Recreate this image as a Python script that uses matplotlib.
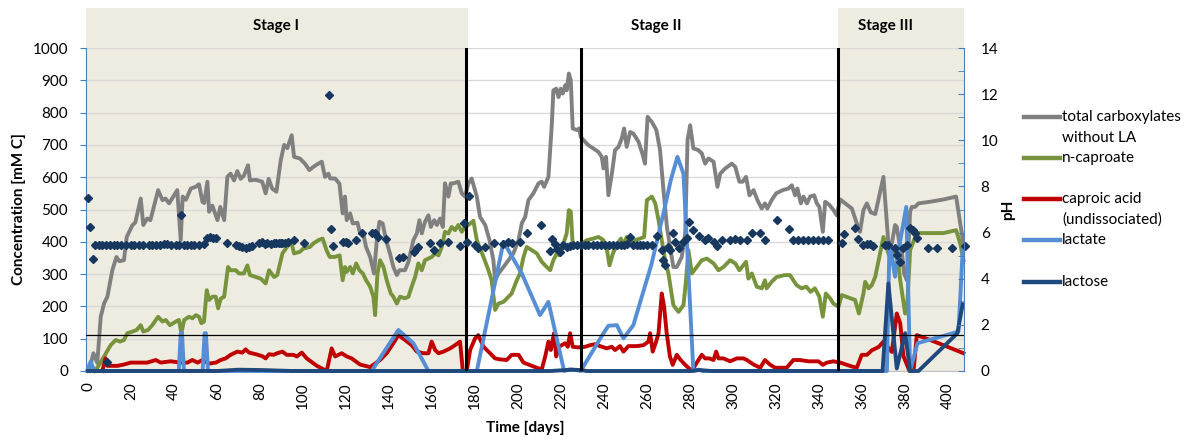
import matplotlib
matplotlib.use("Agg")
import matplotlib.pyplot as plt
import matplotlib.transforms as mtransforms
from matplotlib.patches import Rectangle
from matplotlib.lines import Line2D
from matplotlib.ticker import MultipleLocator

plt.rcParams['font.family'] = ['Lato', 'DejaVu Sans']

# ---- data: (day, value) ----
total_carbox = [(0.5,0),(2.5,55),(4.3,25),(5.9,168),(7.5,210),(9,230),(11.3,312),(13.2,353),(14.5,340),(16.7,343),(18,415),(20.6,451),(22,460),(24.5,534),(25.7,452),(27.5,472),(29,467),(32.6,560),(34.6,529),(36,534),(37.7,519),(41.5,560),(43.1,405),(44,540),(45.5,530),(47.8,565),(50,570),(51.6,578),(53.2,524),(54,520),(55.5,586),(56.3,493),(57.8,512),(60.2,467),(61.5,508),(63.3,467),(64.8,601),(66.3,611),(67.9,590),(69.4,619),(71,595),(72.5,605),(74.4,637),(75.3,590),(78,592),(81,586),(82.6,550),(84,595),(85.6,565),(87.6,555),(89.6,652),(91.2,700),(92.7,690),(94.7,730),(95.8,663),(98.5,658),(100.9,642),(102.9,622),(104.8,632),(106.6,640),(108.7,648),(110.2,601),(111.8,611),(112.6,596),(114.9,596),(116.9,580),(118.4,488),(119.5,540),(120.3,467),(121.9,488),(123.1,457),(125.3,459),(126.5,426),(128.1,421),(129.3,384),(131.2,353),(133,302),(134.3,405),(135.5,462),(137,457),(138.6,405),(140.4,364),(142,322),(143.6,297),(144.8,312),(147.4,312),(149,338),(151.3,405),(152.9,426),(154.1,467),(155.2,426),(156.7,462),(158.3,482),(159.4,446),(161,467),(162.2,452),(163.7,472),(165,446),(166,581),(167.6,540),(168.7,581),(169.9,581),(172.2,586),(173.8,550),(175.3,540),(176.9,581),(178.4,596),(180.8,540),(182.3,477),(184.7,452),(186.7,405),(188.5,343),(189.3,281),(190.9,302),(193.2,322),(195.5,343),(197.8,364),(200.2,405),(201.7,457),(203.3,477),(204.8,529),(207.1,550),(209.5,581),(211,586),(212.1,570),(214.1,601),(215.7,766),(216.4,869),(217.7,874),(218.8,848),(219.8,874),(220.8,859),(221.9,885),(222.6,869),(223.6,921),(224.5,900),(225.4,751),(227.3,746),(228.5,751),(229.1,725),(230.4,715),(232.7,699),(235,689),(237.4,678),(238.9,663),(239.7,627),(240.9,663),(242,544),(243.6,611),(245.1,684),(246.7,694),(248.2,720),(249.3,751),(250.5,694),(252.1,740),(253.6,735),(256,710),(258,668),(259,642),(260.2,787),(262.2,771),(264.3,746),(266,684),(267.6,560),(269.2,446),(272.2,322),(273.8,322),(276.1,353),(277.7,426),(278.8,715),(280,761),(281.5,689),(283.8,684),(285.4,674),(287,642),(288.5,658),(290.9,648),(292.7,570),(294,611),(296.3,627),(299.4,642),(301,632),(302.9,586),(304.4,586),(306,601),(307.6,544),(309.5,560),(311.3,529),(313.3,503),(314.8,519),(315.9,503),(317.9,529),(320,550),(323.1,560),(325.7,565),(327.3,575),(328.8,544),(329.9,565),(331.5,519),(332.7,540),(334.3,519),(335.8,540),(337.7,544),(338.9,519),(340.1,508),(341.7,431),(342.8,524),(344.8,514),(346.7,498),(348.2,482),(349.8,531),(352.1,519),(355.2,503),(357.5,457),(359,431),(360.6,498),(362.2,519),(364,491),(366.1,486),(369.9,601),(372.2,395),(373.8,395),(375.3,452),(376.1,446),(377.6,385),(378.4,374),(379.5,302),(380.8,281),(382.3,493),(383.1,508),(384.6,508),(386.2,519),(391.6,524),(397.8,531),(403.7,540),(405.6,457),(407.1,395)]

n_caproate = [(3,0),(4.3,10),(7.4,44),(10.5,80),(12.9,96),(14.9,91),(16.7,96),(18.3,117),(20.6,122),(22.6,127),(24.5,142),(25.7,122),(27.9,127),(29.9,142),(32.6,168),(34.6,153),(36.1,158),(38.1,142),(40.8,153),(42.3,158),(43.4,117),(44.7,158),(47,168),(48.5,163),(50.1,173),(51.6,168),(52.7,148),(53.9,153),(55.2,250),(56.3,220),(57.8,230),(59.4,230),(60.5,194),(61.7,224),(63.3,230),(65.1,322),(66.3,312),(68.7,312),(70.2,302),(72.5,302),(74.1,327),(75.3,297),(78,291),(80.3,286),(82.6,271),(84.2,312),(86.5,291),(88,297),(90.4,364),(93.2,390),(94.7,395),(95.8,364),(98.5,369),(100.1,379),(103.2,384),(104.8,395),(107.1,405),(109.1,410),(110.9,374),(112.4,353),(114.7,353),(117,358),(118.4,281),(119.5,322),(120.3,307),(121.9,322),(123.1,302),(124.7,333),(126.2,312),(127.8,302),(129.3,281),(131.2,261),(132.7,230),(133.5,173),(134.6,302),(135.8,343),(137.4,322),(138.9,281),(140.8,240),(142,230),(143.6,209),(145.1,230),(147.4,225),(149,230),(150.5,261),(152.1,291),(153.6,333),(155.2,312),(156.7,343),(158.3,348),(159.8,353),(161.4,364),(163,358),(164.5,384),(166,431),(167.6,426),(169.1,446),(170.7,436),(172.2,452),(173.8,431),(175.3,446),(176.9,452),(179.2,465),(180.8,405),(183.9,353),(186.2,312),(187.7,281),(189.3,189),(190.9,209),(193.2,214),(195.5,230),(197,240),(199.4,281),(200.9,302),(202.5,353),(204,384),(206.4,374),(208.7,364),(211,338),(213.3,322),(214.9,312),(216.4,343),(218,364),(219.2,358),(221.1,395),(222.6,426),(223.6,498),(224.5,493),(225.4,390),(227.3,384),(229.6,395),(232,405),(235,410),(237.4,415),(239.7,405),(241.2,379),(242.5,327),(244.1,364),(245.9,390),(247.8,410),(249,390),(250.5,415),(252.1,395),(254.4,405),(256.7,410),(258.6,415),(259.9,529),(262.2,540),(263.8,519),(265.3,467),(266.8,405),(268.4,343),(269.9,302),(272.2,204),(274.6,183),(276.9,204),(278.1,281),(279.2,374),(280.8,302),(283.1,322),(285.4,343),(287.8,348),(290.9,333),(293.2,312),(295.5,322),(298.6,343),(301,333),(302.9,312),(306,338),(307.1,286),(308.7,302),(311,261),(313.3,256),(314.8,281),(315.6,256),(317.9,276),(320.2,291),(324.1,297),(326.4,297),(329.5,266),(331.8,256),(334.1,261),(336,245),(338,256),(340.1,230),(341.7,168),(343.1,240),(345.1,225),(346.6,209),(349,199),(350.5,235),(356.7,220),(358.5,178),(360.6,240),(361.4,276),(363,256),(364.5,266),(366.1,292),(369.9,415),(372.2,364),(373.8,340),(375.3,384),(376.1,370),(377.7,281),(380,178),(380.8,180),(382.3,374),(384.7,415),(386.2,427),(397.8,427),(403.7,436),(405.6,395),(407.1,343)]

caproic_acid = [(6.6,0),(8.2,39),(9,16),(13.7,16),(16.7,20),(19.8,26),(24.5,26),(27.5,26),(31.5,34),(33.8,26),(38.5,30),(43.1,26),(46.2,26),(48.5,34),(50.9,26),(53.2,34),(56.3,23),(59.4,26),(61.7,34),(64,39),(66.3,50),(69.4,60),(71.8,57),(73.3,67),(74.9,57),(78,52),(81,46),(82.6,39),(84.2,52),(86.2,50),(88,55),(90.4,60),(92.4,50),(95.5,50),(97.1,45),(99.4,57),(101.7,39),(106.4,16),(111,0),(113.3,70),(114.9,45),(118,55),(120.3,45),(122.6,39),(126.5,20),(131.2,12),(135.8,34),(138.9,55),(142,86),(144.3,111),(147.4,96),(150.5,80),(152.9,60),(156,55),(158.3,55),(159.8,91),(161.4,65),(163,55),(165.3,60),(168.4,70),(170.7,80),(173,91),(174.3,0),(176.1,0),(177.7,65),(180,101),(181.5,111),(183.9,75),(186.2,60),(189.3,39),(191.6,36),(194.7,34),(197,50),(200.2,50),(202.5,26),(204.8,20),(208.7,10),(211,5),(212.6,45),(214.1,91),(215.2,65),(216.7,117),(217.7,45),(218.8,75),(220.3,80),(221.9,86),(223.1,75),(224.2,117),(225.4,75),(228,73),(231.2,75),(233.5,80),(235.8,83),(238.1,77),(241.2,70),(243.6,75),(245.1,65),(247.4,77),(249,60),(251.3,77),(255.2,77),(258.3,80),(260.6,91),(261.4,117),(262.6,60),(264.2,91),(265.3,117),(266.8,240),(267.9,199),(269.1,117),(270.6,45),(271.9,19),(273.8,50),(275.6,34),(277.7,19),(280.8,0),(283.1,26),(285.4,50),(287,39),(288.9,39),(290.9,34),(292.1,60),(293.2,39),(295.5,39),(298.6,30),(301.7,39),(304.8,39),(306.4,34),(309.5,20),(312.6,10),(314.8,34),(317.1,20),(319.5,10),(324.9,10),(328,34),(331.1,34),(335,30),(339.7,30),(341.7,19),(343.6,26),(346.6,30),(349.8,26),(352.9,19),(355.2,14),(357.5,10),(359.8,50),(362.2,50),(364.5,64),(367.6,74),(369.9,91),(371.8,75),(373.8,59),(376.1,178),(377.7,148),(379.2,46),(382,0),(383.9,0),(385.4,111),(391.6,96),(397.8,80),(407.1,55)]

lactate = [(-0.5,0),(1.2,29),(3,0),(42.2,0),(43.1,117),(43.7,117),(44.6,0),(53.3,0),(54.2,117),(54.8,117),(55.8,0),(131.9,0),(144.3,127),(151.3,86),(158.3,0),(180.8,0),(193.2,400),(201.7,302),(210.2,173),(214.1,214),(221.4,0),(224,5),(227,3),(229.1,0),(239.7,117),(242,140),(245.9,142),(249,101),(253.6,142),(262,330),(268,500),(271,591),(274.1,663),(276.9,611),(281.5,0),(284,4),(286,0),(371.5,0),(372.7,395),(375.3,292),(376.1,343),(380.5,508),(382.3,0),(385.7,86),(404.8,122),(406.8,380)]

lactose = [(0,0),(60,0),(70,4),(80,3),(95,0),(215,0),(225,4),(229,3),(232,0),(265,0),(280,0),(284,3),(290,0),(369.5,0),(372.2,271),(376.1,8),(380,117),(382.3,0),(386.2,0),(404.3,117),(406.8,209)]

ph = [(0,7.49),(0.9,6.23),(2.2,4.84),(3.1,5.46),(5.1,5.46),(6.7,5.46),(8.7,0.4),(8.2,5.46),(10.2,5.46),(12.1,5.48),(13.6,5.46),(15.5,5.48),(17.5,5.46),(19.8,5.44),(21.4,5.46),(23.7,5.46),(25.7,5.46),(28.4,5.48),(29.9,5.46),(31.5,5.46),(33.5,5.46),(35.3,5.5),(36.9,5.52),(38.8,5.46),(40.8,5.46),(42.3,5.46),(43.4,6.76),(44.7,5.46),(46.2,5.46),(47.8,5.44),(49.3,5.46),(51.6,5.46),(53.9,5.5),(55.5,5.75),(56.5,5.8),(58.2,5.75),(59.7,5.78),(64.5,5.56),(68.7,5.46),(70.2,5.42),(71.8,5.39),(73.3,5.32),(74.9,5.39),(76.4,5.42),(79.5,5.54),(81.1,5.6),(82.5,5.5),(83.4,5.54),(84.9,5.52),(86.3,5.54),(87.3,5.54),(88.6,5.56),(89.6,5.56),(90.1,5.54),(91.6,5.56),(93.2,5.6),(95.8,5.68),(100.2,5.56),(112.2,11.96),(112.9,6.14),(114,5.42),(118.7,5.6),(119.8,5.58),(121,5.54),(124.6,5.68),(127.3,6.0),(131.9,6.0),(133.5,5.97),(135,5.8),(138.6,5.71),(144.8,4.89),(146.3,4.95),(151.6,5.17),(152.9,5.32),(153.6,5.39),(159.1,5.56),(160.9,5.24),(163.7,5.54),(167.6,5.6),(173,5.42),(174.9,6.43),(176.1,5.6),(177,7.6),(180,5.46),(181.5,5.32),(184.7,5.39),(188.9,5.54),(193.2,5.51),(195.5,5.6),(197.1,5.54),(201,5.6),(204.1,5.97),(210.6,6.33),(214.9,5.21),(215.7,5.71),(217.2,5.51),(218.3,5.27),(219.5,5.17),(221.1,5.46),(222.6,5.39),(224.2,5.42),(225.7,5.46),(227.3,5.46),(229.2,5.46),(231.2,5.46),(232.7,5.46),(234.7,5.44),(236.6,5.46),(238.4,5.46),(240.5,5.46),(242.5,5.44),(244.2,5.46),(245.9,5.46),(247.7,5.46),(249.3,5.46),(250.5,5.5),(252.1,5.82),(253.6,5.46),(255.2,5.46),(256.7,5.46),(258.3,5.44),(259.9,5.46),(262.2,5.46),(264.5,5.86),(266.8,5.24),(267.6,4.81),(268.4,4.6),(269.9,5.39),(270.7,5.24),(272.2,5.97),(273,5.6),(274.6,5.32),(276.9,5.6),(278.5,5.75),(279.7,6.47),(281.5,6.11),(284.3,5.85),(287,5.68),(288.5,5.75),(290.9,5.6),(292.7,5.42),(294.7,5.68),(298.6,5.68),(300.9,5.7),(303.3,5.68),(306.4,5.68),(308.7,5.97),(312.6,6.0),(314.9,5.68),(320.2,6.54),(326.2,6.14),(328,5.68),(330.3,5.68),(332.6,5.66),(334.9,5.68),(337.2,5.68),(339.6,5.68),(341.9,5.66),(344.2,5.68),(350.5,5.54),(351.6,5.94),(356.7,6.18),(358.3,5.71),(360.6,5.46),(362.2,5.5),(363.8,5.5),(365,5.42),(370.7,5.46),(372.2,5.46),(375.3,5.32),(376.1,5.03),(377.7,4.74),(379.2,5.32),(380.8,5.46),(382.3,6.18),(383.5,6.11),(384.6,5.97),(385.7,5.75),(390.8,5.32),(394.7,5.32),(401.7,5.32),(407.9,5.42)]

stage_lines = [175.7, 229.3, 348.7]
shaded_stages = [(-0.93, 176.6), (348.8, 407.4)]
stage_names = ['Stage I', 'Stage II', 'Stage III']
stage_label_x = [87.4, 264.2, 370.7]
threshold = 110

series = [
    ('total carboxylates', 'without LA', total_carbox, '#808080'),
    ('n-caproate', '', n_caproate, '#77933C'),
    ('caproic acid', '(undissociated)', caproic_acid, '#C00000'),
    ('lactate', '', lactate, '#558ED5'),
    ('lactose', '', lactose, '#1F497D'),
]

fig = plt.figure(figsize=(12, 4.45), dpi=100)
ax = fig.add_axes([0.0717, 0.1663, 0.7317, 0.7258])
ax2 = ax.twinx()

ax.set_xlim(-0.93, 407.4)
ax.set_ylim(0, 1000)
ax2.set_ylim(0, 14)

# stage background
trans = mtransforms.blended_transform_factory(ax.transData, ax.transAxes)
for x0, x1 in shaded_stages:
    ax.add_patch(Rectangle((x0, 0), x1 - x0, 1.124, transform=trans,
                           facecolor='#EEECE1', edgecolor='none',
                           clip_on=False, zorder=0))
for name, xs in zip(stage_names, stage_label_x):
    ax.text(xs, 1.068, name, transform=trans, ha='center', va='center',
            fontsize=11, fontweight='bold')

ax.set_axisbelow(True)
ax.grid(axis='y', color='#D9D9D9', lw=1)
ax.set_yticks(range(0, 1001, 100))
ax.set_xticks(range(0, 401, 20))

for lab1, lab2, pts, col in series:
    d, v = zip(*pts)
    ax.plot(d, v, color=col, lw=2.8, solid_joinstyle='round', clip_on=False, zorder=3)

for x in stage_lines:
    ax.axvline(x, color='black', lw=2.2, zorder=4)
ax.axhline(threshold, color='black', lw=0.9, zorder=4)

pd_, pv = zip(*ph)
ax2.plot(pd_, pv, linestyle='none', marker='D', markersize=3.6,
         color='#17375E', clip_on=False)

# axes styling
axis_blue = '#4A7EBB'
for a in (ax, ax2):
    a.spines['top'].set_visible(False)
ax.spines['right'].set_visible(False)
ax2.spines['left'].set_visible(False)
ax2.spines['bottom'].set_visible(False)
ax.spines['left'].set_color(axis_blue)
ax2.spines['right'].set_color(axis_blue)
ax.spines['bottom'].set_color('#BFBFBF')

ax.tick_params(axis='y', direction='out', length=4, color=axis_blue, labelsize=11, pad=9)
ax.tick_params(axis='x', length=0, labelsize=11, pad=8, labelrotation=90)
ax2.set_yticks(range(0, 15, 2))
ax2.yaxis.set_minor_locator(MultipleLocator(1))
ax2.tick_params(axis='y', which='both', direction='in', length=4, color=axis_blue,
                labelsize=11, pad=12)

ax.set_ylabel('Concentration [mM C]', fontsize=11, fontweight='bold', labelpad=5)
ax2.set_ylabel('pH', fontsize=11, fontweight='bold', labelpad=2)
ax.set_xlabel('Time [days]', fontsize=11, fontweight='bold', labelpad=9)

# legend drawn at the right
leg_y = [117, 158, 199, 240, 282]
for (lab1, lab2, pts, col), y in zip(series, leg_y):
    fy = 1 - y / 445
    fig.add_artist(Line2D([1024 / 1200, 1060 / 1200], [fy, fy], color=col, lw=3.2))
    fig.text(1062 / 1200, fy, lab1, fontsize=11, va='center', ha='left')
    if lab2:
        fig.text(1062 / 1200, fy - 21 / 445, lab2, fontsize=11, va='center', ha='left')

fig.savefig('out.png', dpi=100)
